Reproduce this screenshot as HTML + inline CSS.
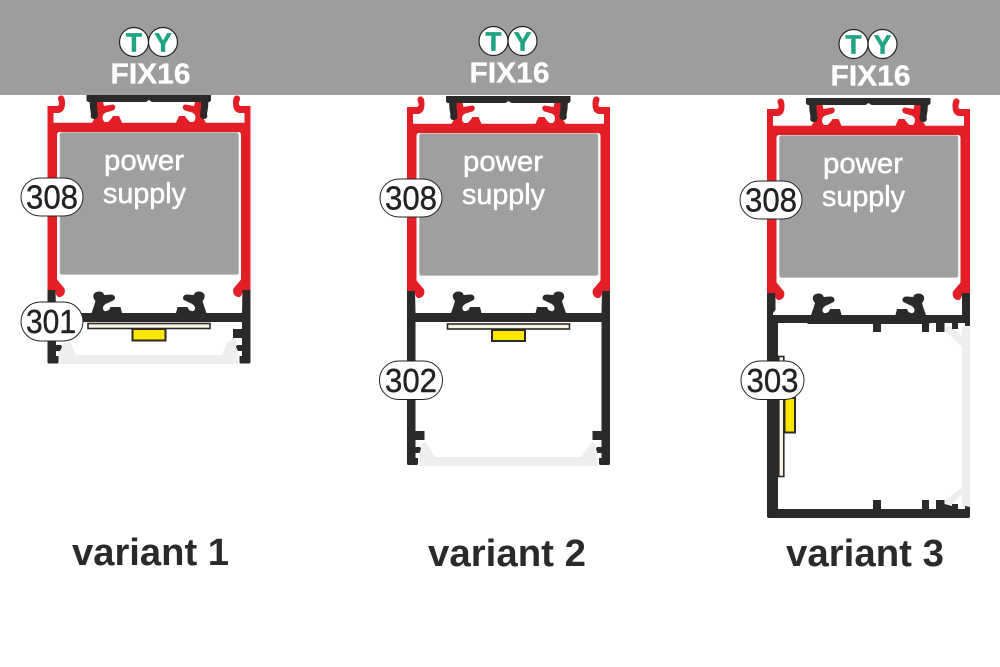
<!DOCTYPE html>
<html><head><meta charset="utf-8"><style>
html,body{margin:0;padding:0;background:#fff}
svg{display:block}
text{font-family:"Liberation Sans",sans-serif}
.fx{fill:#fff;font-weight:bold;font-size:29px;stroke:#fff;stroke-width:.3}
.ps{fill:#fff;font-size:29px;stroke:#fff;stroke-width:.5}
.tl{fill:#1fa585;font-weight:bold;font-size:26px;text-anchor:middle;stroke:#1fa585;stroke-width:.7}
.bn{fill:#222;font-size:33px;stroke:#222;stroke-width:.4}
.vr{fill:#2b2a29;font-weight:bold;font-size:38px}
.pill{fill:#fff;stroke:#222;stroke-width:1}
.c{fill:#fff;stroke:#222;stroke-width:1.2}
</style></head><body>
<svg width="1000" height="667" viewBox="0 0 1000 667" xmlns="http://www.w3.org/2000/svg">
<defs>
<g id="redhalf">
  <path fill="#e31e26" d="M47.500 290V106H57 C59.500 106 59.500 103 58.500 101 C57 97 59 95.500 61.500 95.500 C64 95.500 65 99 65 103 C65 110 62 113 58 113H53.500V122.800H92 L96 116 L95.500 102H103 L104 106 L113 104.500 C116 105 116 109 113 110.500 L106 112.500 C102.500 114 102 117 103 120 L104.500 122 L108 122 L111 119 L113 116H119 L122 122.800H149V132H60 C58 132 57 133 57 135V279.500 L64.500 288.500 C65.500 292 64.500 296 60 297 C57 297.500 56 295 55.500 292 V290Z"/>
  <path fill="#2b2a29" d="M89.500 100H97V107 L98 115 C98 118 96 119 94 119 C91.500 119 90 117 91 114 L90 108Z"/>
</g>
<g id="top">
  <use href="#redhalf"/>
  <use href="#redhalf" transform="translate(298 0) scale(-1 1)"/>
  <rect x="60" y="132.500" width="178.500" height="142" rx="2" fill="#9f9f9f" stroke="#b5b5b5" stroke-width=".6"/>
  <path fill="#2b2a29" d="M86.500 95H211V100.500 L209.500 102H152 L149 100 L146 102H88 L86.500 100.500Z"/>
</g>
<g id="clip">
  <path fill="#2b2a29" d="M88 322 V313H91.500 L94 306 L95.500 301 C91 296 94 291.500 99 291.500 C102 291.500 104 293 104 295 L111 294.500 C115 294.500 116 298.500 114 300 L108 303 C105 304 103 306 103 308 C103 310.500 104.500 311.500 106.500 311 L109 310 L110.500 307H120.500 L122 313H149V322Z"/>
</g>
<path id="wallL" d="M0 0"/>
</defs>

<rect width="1000" height="667" fill="#fff"/>

<!-- Variant 1 lower -->
<path fill="#eeeeee" d="M58 355V347L63 343L70 342 L76 355H222 L228 342 L235 338 L238 347V364H58Z"/>
<use href="#clip"/><use href="#clip" transform="translate(298 0) scale(-1 1)"/>
<path fill="#2b2a29" d="M47.500 287Q47.500 285.500 49 285.500H54Q55.500 285.500 55.500 287L56 313H92V322H56V329H65V338H56V345H61L62 347L60 351H56V356H58.500V362Q58.500 363.500 57 363.500H49Q47.500 363.500 47.500 362Z"/>
<path fill="#2b2a29" d="M250.500 287Q250.500 285.500 249 285.500H244Q242.500 285.500 242.500 287L242 313H206V322H242V329H233V338H242V345H237L236 347L238 351H242V356H239.500V362Q239.500 363.500 241 363.500H249Q250.500 363.500 250.500 362Z"/>

<!-- Band + variant 1 top -->
<rect x="0" y="0" width="1000" height="95" fill="#9d9d9d"/>
<use href="#top"/>
<rect x="88" y="323.500" width="122" height="5" fill="#f8f5e2" stroke="#2b2a29" stroke-width="1.600"/>
<rect x="132.500" y="329" width="33" height="11.500" fill="#ffe600" stroke="#2b2a29" stroke-width="2"/>

<!-- Variant 2 lower -->
<g transform="translate(359.500 0)">
<path fill="#eeeeee" d="M60 457V447L65.500 441.500L76 457H222L232.500 441.500L238 447V466H60Z"/>
<use href="#clip"/><use href="#clip" transform="translate(298 0) scale(-1 1)"/>
<path fill="#2b2a29" d="M47.500 289Q47.500 287 49 287H54Q55.500 287 55.500 289L56 313H92V322H56V431H65V440H56V447H60.500L61.500 449L60 453H56V458H58.500V463.500Q58.500 465 57 465H49Q47.500 465 47.500 463.500Z"/>
<path fill="#2b2a29" d="M250.500 289Q250.500 287 249 287H244Q242.500 287 242.500 289L242 313H206V322H242V431H233V440H242V447H237.500L236.500 449L238 453H242V458H239.500V463.500Q239.500 465 241 465H249Q250.500 465 250.500 463.500Z"/>
<g transform="translate(0 1)"><use href="#top"/></g>
<rect x="88" y="324" width="122" height="5" fill="#f8f5e2" stroke="#2b2a29" stroke-width="1.600"/>
<rect x="132.500" y="330" width="33" height="11" fill="#ffe600" stroke="#2b2a29" stroke-width="2"/>
</g>

<!-- Variant 3 lower -->
<path fill="#eeeeee" d="M962 327H970V507H962V494L950 506H945V501L962 487V346L945 331V327H952L962 336Z"/>
<g transform="translate(719.500 2)"><use href="#clip"/><use href="#clip" transform="translate(298 0) scale(-1 1)"/></g>
<path fill="#2b2a29" d="M767 290Q767 288 769 288H774Q775.500 288 775.500 290V310L773 313V315H962V288H968Q970 288 970 290V326H965V323H958V329H952V323H944.500V332H936V323H929V332H922V323H881V332H873V323H778V509H873V500H881V509H922V500H929V509H936V500H944.500V504L952 506V504H958V509H965V506L970 507V516Q970 518 968 518H769Q767 518 767 516Z"/>
<rect x="778.800" y="356.500" width="5" height="120" fill="#f8f5e2" stroke="#2b2a29" stroke-width="1.600"/>
<rect x="784.500" y="398" width="10.500" height="34.500" fill="#ffe600" stroke="#2b2a29" stroke-width="2"/>
<g transform="translate(719.500 3)"><use href="#top"/></g>

<!-- Badges -->
<rect class="pill" x="21" y="178" width="62" height="38" rx="19"/>
<text class="bn" x="26" y="208.500" textLength="52" lengthAdjust="spacingAndGlyphs">308</text>
<rect class="pill" x="21" y="302" width="62" height="39" rx="19.500"/>
<text class="bn" x="26" y="333" textLength="50" lengthAdjust="spacingAndGlyphs">301</text>

<rect class="pill" x="380" y="179" width="62" height="38" rx="19"/>
<text class="bn" x="385" y="209.500" textLength="52" lengthAdjust="spacingAndGlyphs">308</text>
<rect class="pill" x="379.500" y="361" width="63" height="38.500" rx="19"/>
<text class="bn" x="385" y="392" textLength="52" lengthAdjust="spacingAndGlyphs">302</text>

<rect class="pill" x="740" y="181" width="62" height="38" rx="19"/>
<text class="bn" x="745" y="211.500" textLength="52" lengthAdjust="spacingAndGlyphs">308</text>
<rect class="pill" x="741" y="361" width="63" height="38.500" rx="19"/>
<text class="bn" x="746.500" y="392" textLength="52" lengthAdjust="spacingAndGlyphs">303</text>

<!-- TY + FIX16 -->
<circle class="c" cx="134" cy="42" r="14.500"/><circle class="c" cx="163" cy="42" r="14.500"/>
<text class="tl" x="134" y="51.500">T</text><text class="tl" x="163" y="51.500">Y</text>
<text class="fx" x="110.500" y="83.500" textLength="80" lengthAdjust="spacingAndGlyphs">FIX16</text>

<circle class="c" cx="493.500" cy="41" r="14.500"/><circle class="c" cx="522.500" cy="41" r="14.500"/>
<text class="tl" x="493.500" y="50.500">T</text><text class="tl" x="522.500" y="50.500">Y</text>
<text class="fx" x="469.500" y="82.500" textLength="80" lengthAdjust="spacingAndGlyphs">FIX16</text>

<circle class="c" cx="853.500" cy="44" r="14.500"/><circle class="c" cx="882.500" cy="44" r="14.500"/>
<text class="tl" x="853.500" y="53.500">T</text><text class="tl" x="882.500" y="53.500">Y</text>
<text class="fx" x="830.500" y="85.500" textLength="80" lengthAdjust="spacingAndGlyphs">FIX16</text>

<!-- power supply -->
<text class="ps" x="104" y="170" textLength="80" lengthAdjust="spacingAndGlyphs">power</text>
<text class="ps" x="103" y="203" textLength="83" lengthAdjust="spacingAndGlyphs">supply</text>
<text class="ps" x="463" y="171" textLength="80" lengthAdjust="spacingAndGlyphs">power</text>
<text class="ps" x="462" y="204" textLength="83" lengthAdjust="spacingAndGlyphs">supply</text>
<text class="ps" x="823" y="173" textLength="80" lengthAdjust="spacingAndGlyphs">power</text>
<text class="ps" x="822" y="206" textLength="83" lengthAdjust="spacingAndGlyphs">supply</text>

<!-- Variant titles -->
<text class="vr" x="72" y="565" textLength="157" lengthAdjust="spacingAndGlyphs">variant 1</text>
<text class="vr" x="428" y="566" textLength="158" lengthAdjust="spacingAndGlyphs">variant 2</text>
<text class="vr" x="786" y="566" textLength="158" lengthAdjust="spacingAndGlyphs">variant 3</text>
</svg>
</body></html>
